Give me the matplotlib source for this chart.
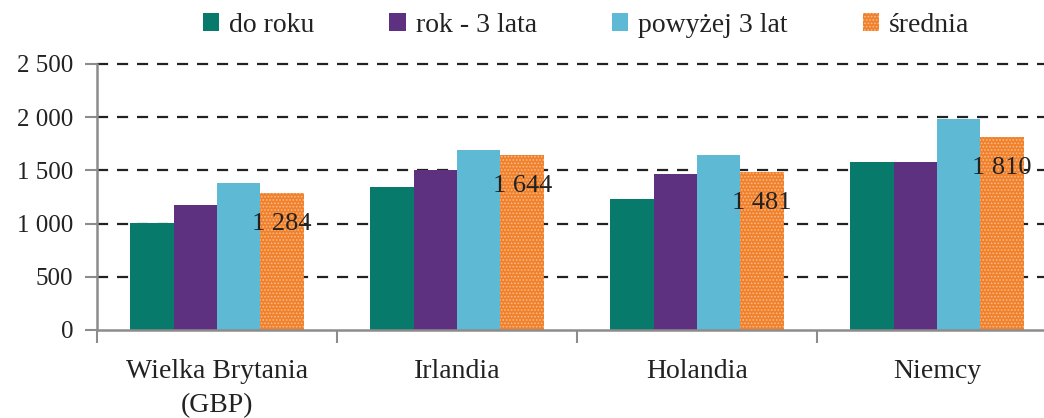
import numpy as np
import matplotlib.pyplot as plt

# wages by country and length of service
countries = ['Wielka Brytania\n(GBP)', 'Irlandia', 'Holandia', 'Niemcy']
series = ['do roku', 'rok - 3 lata', 'powyżej 3 lat', 'średnia']
do_roku = [1005, 1344, 1231, 1582]
rok_3 = [1175, 1504, 1466, 1582]
powyzej_3 = [1381, 1692, 1645, 1980]
srednia = [1284, 1644, 1481, 1810]
avg_labels = ['1 284', '1 644', '1 481', '1 810']
yticks = [0, 500, 1000, 1500, 2000, 2500]
ytick_labels = ['0', '500', '1 000', '1 500', '2 000', '2 500']

colors = ['#077A6B', '#5E3180', '#5DB9D4', '#F0812A']
plt.rcParams['font.family'] = ['Liberation Serif', 'DejaVu Serif']
plt.rcParams['hatch.color'] = '#F9B98A'
plt.rcParams['hatch.linewidth'] = 0.8

fig = plt.figure(figsize=(10.44, 4.18), dpi=100)
ax = fig.add_axes([97/1044, 1 - 330/418, 960/1044, (330 - 64)/418])

x = np.arange(len(countries))
w = 0.181
data = [do_roku, rok_3, powyzej_3, srednia]
for i, vals in enumerate(data):
    kw = dict(color=colors[i], linewidth=0, zorder=3, label=series[i])
    if i == 3:
        kw.update(hatch='.....', edgecolor='#F9B98A')
    ax.bar(x + (i - 1.5) * w, vals, w, **kw)

# labels for the average bar
for xi, v, lab in zip(x, srednia, avg_labels):
    ax.text(xi + 1.5 * w, v - 290, lab, ha='center', va='center',
            fontsize=19, color='#222222', zorder=5)

ax.set_ylim(0, 2500)
ax.set_xlim(-0.5, 3.5)
ax.set_yticks(yticks)
ax.set_yticklabels(ytick_labels, fontsize=18, color='#222222')
ax.set_xticks(x)
ax.set_xticklabels(countries, fontsize=20, color='#222222', linespacing=1.45)
ax.set_xticks(np.arange(-0.5, 4, 1), minor=True)
ax.tick_params(axis='x', which='major', length=0, pad=21)
ax.tick_params(axis='x', which='minor', length=9, width=1.5, color='#8C8C8C', direction='out')
ax.tick_params(axis='y', length=9, width=1.5, color='#8C8C8C', pad=8)

# dashed gridlines (not at zero)
ax.hlines(yticks[1:], -0.5, 3.5, colors='#222222', linestyles=(0, (5, 4)),
          linewidth=1.6, zorder=1, clip_on=False)
for s in ['top', 'right']:
    ax.spines[s].set_visible(False)
for s in ['left', 'bottom']:
    ax.spines[s].set_color('#8C8C8C')
    ax.spines[s].set_linewidth(1.8)
    ax.spines[s].set_zorder(4)

fig.legend(loc='center', bbox_to_anchor=(586/1044, 1 - 25/418), ncol=4, frameon=False,
           fontsize=20, handlelength=0.6, handleheight=0.6, handletextpad=0.35,
           columnspacing=2.7, labelcolor='#222222')

fig.savefig('out.png', dpi=100)
